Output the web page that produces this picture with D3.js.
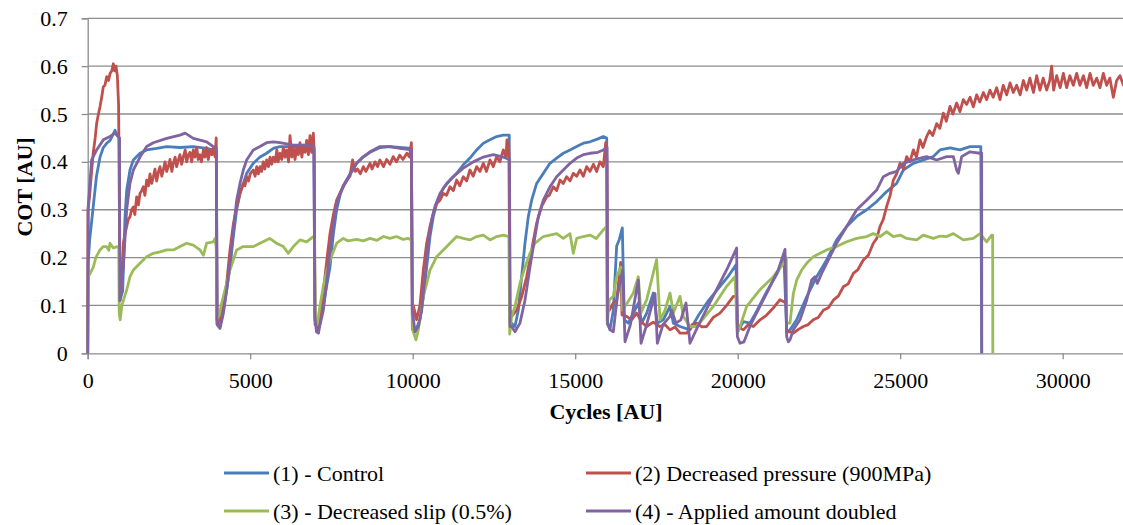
<!DOCTYPE html>
<html>
<head>
<meta charset="utf-8">
<script src="https://cdn.jsdelivr.net/npm/d3@7"></script>
<style>
  html, body { margin: 0; padding: 0; background: #fff; }
  svg { display: block; }
</style>
</head>
<body>
<svg id="chart" width="1123" height="525" font-family="serif"></svg>
<script>
// tick values
var cycleTicks = [0, 5000, 10000, 15000, 20000, 25000, 30000];
var cotTicks = [0, 0.1, 0.2, 0.3, 0.4, 0.5, 0.6, 0.7];
var cotTickLabels = ["0", "0.1", "0.2", "0.3", "0.4", "0.5", "0.6", "0.7"];

var seriesNames = ["(1) - Control", "(2) Decreased pressure (900MPa)",
                   "(3) - Decreased slip (0.5%)", "(4) - Applied amount doubled"];

// [cycles, COT]
var control = [
  [0,0],[15,0.19],[60,0.237],[160,0.3],[270,0.37],[380,0.41],[480,0.43],[600,0.44],[690,0.445],[840,0.466],[910,0.455],[975,0.45],[990,0.11],
  [1076,0.13],[1148,0.285],[1199,0.34],[1301,0.383],[1404,0.404],[1609,0.418],[1814,0.425],[2122,0.428],[2430,0.432],[2840,0.43],[3250,0.432],[3660,0.428],[3865,0.425],[3960,0.42],[3980,0.063],
  [4070,0.055],[4173,0.09],[4276,0.132],[4378,0.18],[4481,0.244],[4583,0.3],[4686,0.334],[4788,0.355],[4891,0.376],[5096,0.397],[5301,0.41],[5506,0.418],[5711,0.428],[5917,0.432],[6327,0.432],[6737,0.432],[6960,0.428],[6990,0.07],
  [7060,0.05],[7150,0.07],[7250,0.1],[7350,0.14],[7455,0.18],[7560,0.25],[7660,0.3],[7763,0.33],[7865,0.35],[8070,0.375],[8275,0.397],[8480,0.41],[8686,0.42],[9000,0.43],[9300,0.432],[9600,0.43],[9960,0.428],[9990,0.06],
  [10070,0.045],[10224,0.07],[10327,0.118],[10430,0.18],[10532,0.244],[10635,0.286],[10737,0.313],[10942,0.345],[11147,0.362],[11352,0.376],[11557,0.394],[11762,0.408],[11968,0.425],[12173,0.439],[12378,0.446],[12583,0.453],[12788,0.456],[12970,0.456],[12995,0.063],
  [13045,0.063],[13147,0.056],[13250,0.09],[13352,0.16],[13455,0.23],[13558,0.286],[13660,0.32],[13814,0.355],[14019,0.376],[14224,0.397],[14429,0.408],[14634,0.418],[14840,0.425],[15045,0.432],[15250,0.439],[15455,0.442],[15700,0.448],[15865,0.453],[15970,0.45],[15990,0.063],
  [16071,0.05],[16173,0.09],[16276,0.224],[16358,0.238],[16450,0.262],[16512,0.07],[16635,0.063],[16789,0.084],[16943,0.105],[17045,0.063],[17200,0.084],[17404,0.126],[17527,0.063],[17712,0.07],[17917,0.098],[18019,0.063],[18225,0.056],[18532,0.049],
  [18800,0.08],[19100,0.11],[19400,0.135],[19700,0.16],[19948,0.185],[19989,0.045],[20174,0.066],[20378,0.063],[20600,0.09],[20900,0.13],[21200,0.165],[21425,0.196],[21507,0.045],
  [21609,0.049],[21815,0.07],[22122,0.118],[22430,0.16],[22737,0.195],[23045,0.237],[23353,0.265],[23661,0.286],[23968,0.3],[24276,0.317],[24584,0.338],[24891,0.355],[25096,0.383],[25404,0.397],[25712,0.404],[26020,0.411],[26225,0.425],[26532,0.429],[26840,0.425],[27148,0.432],[27480,0.432],[27507,0]
];

var decreasedPressure = [
  [0,0],[10,0.3],[60,0.33],[120,0.38],[173,0.42],[230,0.45],[275,0.48],[330,0.5],[378,0.515],[430,0.535],[480,0.557],[530,0.56],[584,0.578],[640,0.57],[690,0.585],[740,0.59],[789,0.605],[830,0.59],[870,0.6],[912,0.58],[950,0.52],[975,0.3],[990,0.11],
  [1040,0.14],[1096,0.23],[1150,0.25],[1199,0.265],[1250,0.28],[1301,0.285],[1350,0.3],[1404,0.306],[1450,0.29],[1506,0.327],[1560,0.31],[1609,0.334],[1660,0.34],[1711,0.348],[1760,0.33],[1814,0.362],[1870,0.35],[1917,0.375],[1970,0.355],[2020,0.369],[2070,0.385],[2122,0.36],[2180,0.38],[2225,0.39],[2280,0.37],[2327,0.383],[2380,0.4],[2430,0.38],[2480,0.39],[2532,0.405],[2590,0.38],[2635,0.397],[2690,0.41],[2737,0.39],[2790,0.404],[2840,0.415],[2890,0.395],[2942,0.41],[3000,0.425],[3045,0.4],[3100,0.415],[3150,0.42],[3200,0.4],[3250,0.425],[3300,0.41],[3355,0.43],[3400,0.405],[3455,0.415],[3500,0.4],[3560,0.425],[3610,0.41],[3660,0.43],[3710,0.405],[3763,0.425],[3820,0.415],[3865,0.43],[3920,0.41],[3955,0.45],[3980,0.07],
  [4020,0.065],[4070,0.07],[4173,0.1],[4276,0.146],[4378,0.216],[4481,0.27],[4583,0.306],[4686,0.334],[4788,0.355],[4840,0.35],[4891,0.369],[4950,0.36],[5000,0.375],[5096,0.383],[5150,0.37],[5200,0.39],[5250,0.375],[5301,0.39],[5350,0.38],[5400,0.4],[5450,0.385],[5506,0.404],[5560,0.39],[5610,0.41],[5660,0.395],[5711,0.41],[5770,0.4],[5820,0.425],[5860,0.4],[5917,0.418],[5970,0.405],[6020,0.43],[6070,0.41],[6122,0.425],[6180,0.4],[6225,0.455],[6280,0.41],[6327,0.43],[6380,0.405],[6430,0.43],[6480,0.415],[6532,0.44],[6590,0.41],[6640,0.435],[6690,0.42],[6737,0.445],[6790,0.415],[6840,0.455],[6890,0.42],[6942,0.46],[6970,0.42],[6995,0.06],
  [7020,0.06],[7060,0.05],[7150,0.08],[7250,0.13],[7350,0.19],[7455,0.25],[7560,0.29],[7660,0.32],[7763,0.335],[7865,0.35],[7960,0.36],[8070,0.37],[8150,0.404],[8230,0.38],[8300,0.385],[8390,0.375],[8480,0.39],[8560,0.38],[8686,0.397],[8750,0.385],[8840,0.4],[8920,0.39],[8990,0.404],[9100,0.39],[9200,0.405],[9300,0.395],[9400,0.411],[9500,0.4],[9600,0.414],[9700,0.405],[9820,0.418],[9900,0.41],[9960,0.44],[9990,0.05],
  [10020,0.1],[10120,0.07],[10224,0.1],[10327,0.174],[10430,0.23],[10532,0.265],[10635,0.293],[10737,0.313],[10840,0.32],[10942,0.334],[11040,0.33],[11147,0.348],[11250,0.34],[11352,0.362],[11450,0.35],[11557,0.369],[11660,0.36],[11762,0.383],[11860,0.37],[11968,0.39],[12070,0.38],[12173,0.397],[12270,0.38],[12378,0.404],[12480,0.39],[12583,0.411],[12680,0.4],[12788,0.425],[12870,0.41],[12900,0.446],[12960,0.42],[12990,0.09],
  [13045,0.077],[13200,0.09],[13352,0.118],[13506,0.16],[13660,0.216],[13814,0.272],[13968,0.307],[14122,0.327],[14200,0.33],[14327,0.348],[14430,0.34],[14532,0.362],[14634,0.355],[14737,0.369],[14840,0.36],[14942,0.376],[15045,0.37],[15147,0.383],[15250,0.37],[15352,0.39],[15455,0.38],[15560,0.395],[15660,0.38],[15760,0.4],[15865,0.39],[15940,0.44],[15975,0.41],[15995,0.09],
  [16050,0.09],[16173,0.105],[16276,0.11],[16400,0.19],[16440,0.08],[16583,0.077],[16740,0.07],[16890,0.084],[17050,0.065],[17200,0.056],[17400,0.065],[17600,0.056],[17760,0.06],[17917,0.049],[18070,0.055],[18225,0.042],[18430,0.042],[18600,0.06],[18737,0.063],[18900,0.055],[19045,0.056],[19250,0.075],[19455,0.084],[19660,0.1],[19866,0.119],[19968,0.119],[19990,0.056],
  [20174,0.049],[20330,0.06],[20481,0.056],[20690,0.07],[20891,0.08],[21100,0.095],[21300,0.112],[21490,0.105],[21507,0.045],
  [21609,0.045],[21712,0.042],[21870,0.05],[22020,0.056],[22170,0.06],[22327,0.07],[22480,0.075],[22635,0.09],[22790,0.095],[22943,0.111],[23100,0.12],[23250,0.139],[23400,0.145],[23558,0.167],[23700,0.175],[23866,0.195],[24020,0.205],[24173,0.23],[24280,0.24],[24379,0.265],[24480,0.28],[24584,0.307],[24690,0.33],[24789,0.362],[24890,0.375],
  [24994,0.397],[25100,0.385],[25199,0.411],[25300,0.4],[25404,0.425],[25500,0.41],[25609,0.446],[25700,0.43],[25814,0.453],[25900,0.465],[26000,0.455],[26122,0.48],[26220,0.47],[26327,0.502],[26420,0.485],[26532,0.516],[26620,0.5],[26737,0.523],[26840,0.505],[26940,0.53],[27045,0.52],[27150,0.535],[27250,0.515],[27353,0.54],[27450,0.525],[27560,0.545],[27660,0.53],[27760,0.55],[27860,0.535],[27968,0.555],[28070,0.53],[28170,0.56],[28276,0.54],[28380,0.565],[28480,0.545],[28583,0.56],[28690,0.54],[28790,0.57],[28891,0.55],[28990,0.575],[29100,0.545],[29199,0.58],[29300,0.55],[29400,0.575],[29507,0.55],[29600,0.57],[29660,0.6],[29720,0.55],[29814,0.58],[29920,0.555],[30020,0.585],[30122,0.555],[30220,0.58],[30327,0.56],[30430,0.585],[30530,0.56],[30637,0.58],[30737,0.555],[30840,0.585],[30940,0.56],[31047,0.575],[31147,0.555],[31250,0.585],[31353,0.56],[31450,0.575],[31558,0.535],[31660,0.57],[31763,0.58],[31870,0.56],[32000,0.575]
];

var decreasedSlip = [
  [0,0],[10,0.16],[60,0.165],[173,0.18],[250,0.2],[378,0.216],[480,0.223],[584,0.223],[650,0.215],[686,0.23],[789,0.22],[900,0.223],[955,0.22],[970,0.083],[1000,0.07],[1050,0.1],
  [1199,0.132],[1301,0.16],[1404,0.174],[1609,0.188],[1814,0.202],[2019,0.209],[2224,0.212],[2430,0.216],[2635,0.216],[2840,0.223],[3045,0.23],[3250,0.226],[3455,0.216],[3560,0.205],[3660,0.23],[3865,0.233],[3920,0.24],[3955,0.22],[3975,0.07],
  [4050,0.08],[4120,0.104],[4276,0.146],[4378,0.174],[4481,0.195],[4583,0.216],[4788,0.223],[5096,0.223],[5301,0.23],[5600,0.24],[5810,0.23],[6020,0.223],[6170,0.209],[6327,0.223],[6532,0.237],[6737,0.233],[6942,0.244],[6980,0.24],[7000,0.07],
  [7060,0.06],[7150,0.1],[7250,0.14],[7350,0.17],[7455,0.195],[7660,0.23],[7865,0.24],[8000,0.235],[8275,0.238],[8480,0.235],[8686,0.24],[8900,0.236],[9100,0.244],[9300,0.24],[9500,0.244],[9700,0.238],[9870,0.24],[9980,0.235],[10000,0.05],
  [10020,0.045],[10100,0.028],[10173,0.049],[10327,0.118],[10532,0.174],[10737,0.202],[10942,0.216],[11147,0.23],[11352,0.244],[11557,0.24],[11762,0.237],[11968,0.244],[12173,0.247],[12378,0.237],[12583,0.244],[12788,0.247],[12960,0.244],[12985,0.04],
  [13045,0.077],[13147,0.098],[13300,0.146],[13455,0.18],[13609,0.209],[13763,0.23],[14019,0.244],[14224,0.247],[14429,0.25],[14634,0.24],[14840,0.25],[14942,0.209],[15045,0.24],[15250,0.244],[15455,0.247],[15650,0.24],[15865,0.258],[15965,0.265],[15985,0.06],
  [16050,0.112],[16173,0.119],[16276,0.16],[16400,0.18],[16460,0.09],[16789,0.126],[16943,0.16],[17020,0.084],[17200,0.112],[17506,0.196],[17610,0.07],[17765,0.09],[17917,0.126],[18020,0.084],[18225,0.119],[18327,0.077],[18532,0.056],[18737,0.056],
  [19250,0.098],[19660,0.14],[19917,0.16],[19989,0.042],[20071,0.056],[20276,0.098],[20686,0.133],[21096,0.16],[21425,0.189],[21495,0.2],[21507,0.063],
  [21609,0.063],[21712,0.125],[21815,0.153],[21968,0.174],[22122,0.188],[22327,0.202],[22532,0.209],[22737,0.216],[23045,0.223],[23353,0.233],[23661,0.24],[23968,0.244],[24173,0.25],[24379,0.244],[24584,0.254],[24789,0.244],[25000,0.247],[25199,0.24],[25507,0.237],[25712,0.247],[26020,0.24],[26230,0.245],[26430,0.244],[26635,0.25],[26943,0.237],[27250,0.24],[27456,0.25],[27660,0.233],[27815,0.247],[27845,0.247],[27850,0]
];

var amountDoubled = [
  [0,0],[15,0.306],[120,0.404],[275,0.425],[480,0.446],[686,0.453],[840,0.46],[940,0.453],[975,0.45],[988,0.11],
  [1096,0.18],[1199,0.3],[1301,0.355],[1404,0.383],[1609,0.41],[1814,0.432],[2019,0.44],[2430,0.449],[2840,0.456],[3000,0.46],[3250,0.449],[3660,0.442],[3865,0.432],[3960,0.43],[3980,0.06],
  [4070,0.052],[4173,0.083],[4276,0.132],[4378,0.188],[4481,0.257],[4583,0.32],[4686,0.355],[4788,0.383],[4891,0.404],[5096,0.425],[5301,0.432],[5506,0.44],[5711,0.442],[5917,0.44],[6327,0.435],[6737,0.435],[6960,0.432],[6990,0.077],
  [7040,0.045],[7100,0.042],[7150,0.06],[7250,0.09],[7350,0.146],[7455,0.216],[7560,0.27],[7660,0.313],[7763,0.334],[7865,0.348],[8070,0.373],[8275,0.397],[8480,0.411],[8686,0.421],[8994,0.432],[9300,0.432],[9608,0.428],[9960,0.425],[9990,0.09],
  [10070,0.045],[10173,0.056],[10276,0.09],[10378,0.16],[10481,0.23],[10583,0.279],[10686,0.307],[10840,0.334],[11045,0.355],[11250,0.369],[11557,0.387],[11865,0.4],[12173,0.41],[12481,0.415],[12788,0.41],[12980,0.405],[12995,0.056],
  [13045,0.056],[13147,0.045],[13300,0.063],[13455,0.111],[13609,0.18],[13763,0.244],[13866,0.286],[14019,0.32],[14224,0.348],[14429,0.369],[14634,0.383],[14840,0.397],[15045,0.408],[15250,0.415],[15455,0.418],[15700,0.42],[15865,0.425],[15980,0.43],[15995,0.063],
  [16071,0.049],[16173,0.045],[16300,0.12],[16460,0.174],[16533,0.024],[16700,0.06],[16943,0.153],[17025,0.021],[17200,0.06],[17455,0.125],[17527,0.021],[17700,0.06],[17917,0.077],[17968,0.09],[18100,0.063],[18250,0.07],[18409,0.105],[18532,0.021],
  [18800,0.06],[19100,0.1],[19400,0.14],[19700,0.18],[19968,0.22],[19989,0.035],[20071,0.021],[20194,0.024],[20400,0.06],[20700,0.1],[21000,0.14],[21250,0.175],[21456,0.217],[21507,0.035],
  [21558,0.024],[21609,0.028],[21712,0.049],[21917,0.07],[22122,0.111],[22276,0.153],[22378,0.16],[22450,0.146],[22584,0.167],[22737,0.188],[23045,0.23],[23353,0.265],[23661,0.3],[23968,0.32],[24276,0.341],[24481,0.369],[24686,0.376],[24891,0.38],[25096,0.397],[25404,0.404],[25814,0.411],[26122,0.404],[26430,0.411],[26635,0.411],[26737,0.383],[26789,0.376],[26891,0.411],[27148,0.421],[27456,0.418],[27507,0.418],[27510,0]
];

var seriesData = [control, decreasedPressure, decreasedSlip, amountDoubled];
var colors = ["#4a7ebb", "#c0504d", "#9bbb59", "#8064a2"];
var textFont = "serif";

var svg = d3.select("#chart");
var plot = {left: 87.7, top: 18.3, bottom: 353.3};

var x = d3.scaleLinear().domain([0, 32000]).range([plot.left, plot.left + 32000 * 0.0325]);
var y = d3.scaleLinear().domain([0, 0.7]).range([plot.bottom, plot.top]);

// horizontal gridlines
svg.append("g")
    .selectAll("line")
    .data(cotTicks.slice(1))
    .enter().append("line")
      .attr("x1", plot.left).attr("x2", 1123)
      .attr("y1", function(d) { return y(d); })
      .attr("y2", function(d) { return y(d); })
      .attr("stroke", "#8c8c8c")
      .attr("stroke-width", 1.3);

// axes
var yAxis = svg.append("g")
    .attr("transform", "translate(" + plot.left + ",0)")
    .call(d3.axisLeft(y).tickValues(cotTicks).tickSize(6).tickPadding(14)
      .tickFormat(function(d, i) { return cotTickLabels[i]; }));

var xAxis = svg.append("g")
    .attr("transform", "translate(0," + plot.bottom + ")")
    .call(d3.axisBottom(x).tickValues(cycleTicks).tickSize(6).tickPadding(13)
      .tickFormat(d3.format("d")));

[yAxis, xAxis].forEach(function(ax) {
  ax.attr("font-family", textFont).attr("font-size", 22);
  ax.select(".domain").attr("stroke", "#8c8c8c").attr("stroke-width", 1.3);
  ax.selectAll(".tick line").attr("stroke", "#8c8c8c").attr("stroke-width", 1.3);
  ax.selectAll(".tick text")
    .attr("font-family", textFont)
    .attr("font-size", 22)
    .attr("fill", "#000");
});

// series
var line = d3.line()
    .x(function(d) { return x(d[0]); })
    .y(function(d) { return y(d[1]); });

svg.append("g")
    .selectAll("path")
    .data(seriesData)
    .enter().append("path")
      .attr("d", line)
      .attr("fill", "none")
      .attr("stroke", function(d, i) { return colors[i]; })
      .attr("stroke-width", 2.8)
      .attr("stroke-linejoin", "round");

// axis titles
svg.append("text")
    .attr("transform", "translate(24,187) rotate(-90)")
    .attr("text-anchor", "middle")
    .attr("dy", "0.35em")
    .attr("font-family", textFont)
    .attr("font-size", 22)
    .attr("font-weight", "bold")
    .text("COT [AU]");

svg.append("text")
    .attr("x", 606)
    .attr("y", 419)
    .attr("text-anchor", "middle")
    .attr("font-family", textFont)
    .attr("font-size", 22)
    .attr("font-weight", "bold")
    .text("Cycles [AU]");

// legend
var legendPos = [[224, 473], [586, 473], [224, 511], [586, 511]];
var legend = svg.append("g")
    .selectAll("g")
    .data(seriesNames)
    .enter().append("g")
      .attr("transform", function(d, i) { return "translate(" + legendPos[i][0] + "," + legendPos[i][1] + ")"; });

legend.append("line")
    .attr("x1", 0).attr("x2", 45)
    .attr("stroke", function(d, i) { return colors[i]; })
    .attr("stroke-width", 2.8);

legend.append("text")
    .attr("x", 49)
    .attr("dy", "0.35em")
    .attr("font-family", textFont)
    .attr("font-size", 22)
    .text(function(d) { return d; });
</script>
</body>
</html>
